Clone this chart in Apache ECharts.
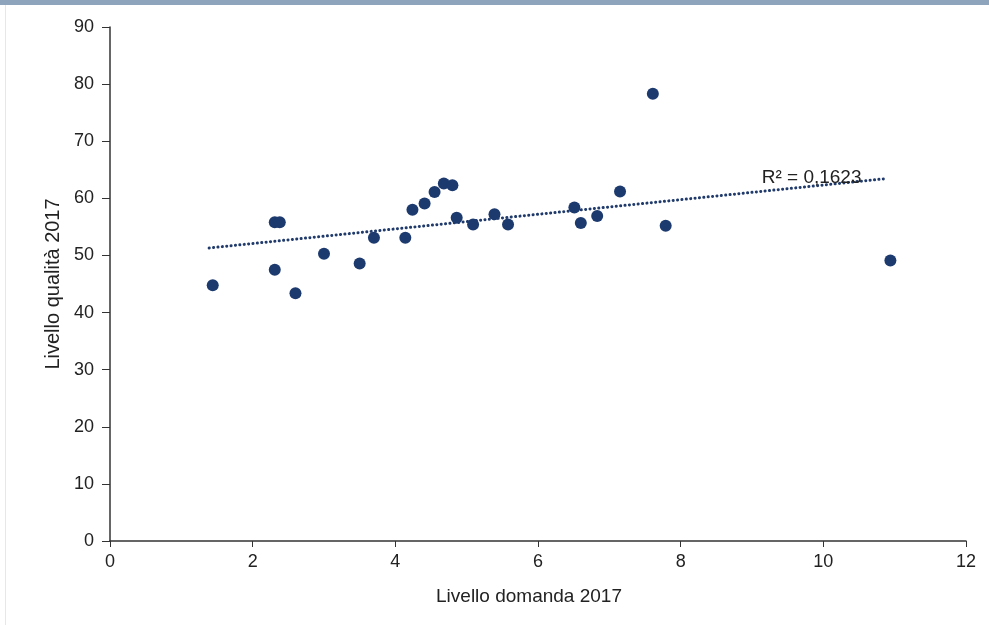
<!DOCTYPE html>
<html><head><meta charset="utf-8">
<script src="https://cdn.jsdelivr.net/npm/echarts@6/dist/echarts.min.js"></script>
<style>html,body{margin:0;padding:0;background:#fff}#c{width:989px;height:625px}</style>
</head><body><div id="c"></div>
<script>
const domanda = [1.44, 2.31, 2.38, 2.31, 2.60, 3.00, 3.50, 3.70, 4.14, 4.24, 4.41, 4.55, 4.68, 4.80, 4.86, 5.09, 5.39, 5.58, 6.51, 6.60, 6.83, 7.15, 7.61, 7.79, 10.94];
const qualita = [44.8, 55.8, 55.8, 47.5, 43.4, 50.3, 48.6, 53.1, 53.1, 58.0, 59.1, 61.1, 62.6, 62.3, 56.6, 55.4, 57.2, 55.4, 58.4, 55.7, 56.9, 61.2, 78.3, 55.2, 49.1];
const xTicks = [0, 2, 4, 6, 8, 10, 12];
const yTicks = [0, 10, 20, 30, 40, 50, 60, 70, 80, 90];
const r2Label = 'R² = 0,1623';

const n = domanda.length;
const mx = domanda.reduce((a,b)=>a+b,0)/n, my = qualita.reduce((a,b)=>a+b,0)/n;
let sxy=0, sxx=0;
for (let i=0;i<n;i++){sxy+=(domanda[i]-mx)*(qualita[i]-my);sxx+=(domanda[i]-mx)**2;}
const slope=sxy/sxx, icpt=my-slope*mx;
const x0=Math.min(...domanda)-0.05, x1=Math.max(...domanda)-0.08;
const trend=[[x0,icpt+slope*x0],[x1,icpt+slope*x1]];

const chart = echarts.init(document.getElementById('c'));
const font = 'Liberation Sans, Arial, sans-serif';
chart.setOption({
  backgroundColor:'#ffffff',
  animation:false,
  grid:{left:110,right:23,top:27,bottom:84,containLabel:false},
  xAxis:{type:'value',min:0,max:12,interval:2,
    name:'Livello domanda 2017',nameLocation:'middle',nameGap:46,
    nameTextStyle:{fontFamily:font,fontSize:19,color:'#222',padding:[0,18,0,0]},
    axisLine:{show:true,onZero:false,lineStyle:{color:'#333',width:1.5}},
    axisTick:{show:true,length:6,lineStyle:{color:'#333'}},
    axisLabel:{fontFamily:font,fontSize:18,color:'#222',margin:12,formatter:v=>xTicks.includes(v)?String(v):''},
    splitLine:{show:false}},
  yAxis:{type:'value',min:0,max:90,interval:10,
    name:'Livello qualità 2017',nameLocation:'middle',nameGap:43,nameRotate:90,
    nameTextStyle:{fontFamily:font,fontSize:20,color:'#222'},
    axisLine:{show:true,lineStyle:{color:'#333',width:1.5}},
    axisTick:{show:true,length:8,lineStyle:{color:'#333'}},
    axisLabel:{fontFamily:font,fontSize:18,color:'#222',margin:16,formatter:v=>yTicks.includes(v)?String(v):''},
    splitLine:{show:false}},
  series:[
    {type:'line',data:trend,symbol:'none',z:1,
      lineStyle:{color:'#1f3a6b',width:3,type:[0.1,4.3],cap:'round'}},
    {type:'scatter',data:domanda.map((x,i)=>[x,qualita[i]]),symbolSize:12,z:2,
      itemStyle:{color:'#1d3a6e',opacity:1}},
  ],
});
const p = chart.convertToPixel({gridIndex:0},[trend[1][0],trend[1][1]]);
chart.setOption({graphic:[
  {type:'rect',left:0,top:0,shape:{width:989,height:5},style:{fill:'#8ea4bd'}},
  {type:'rect',left:5,top:5,shape:{width:1,height:620},style:{fill:'#e4e8ee'}},
  {type:'text',x:p[0]-123,y:p[1]-10,style:{text:r2Label,fontFamily:font,fontSize:19,fill:'#222'},z:10}
]});
</script></body></html>
